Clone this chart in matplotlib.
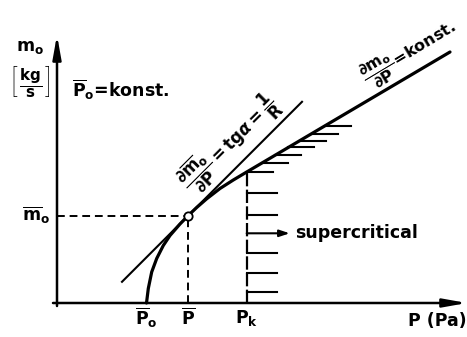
import numpy as np
import matplotlib
matplotlib.use("Agg")
import matplotlib.pyplot as plt

plt.rcParams['font.family'] = ['DejaVu Sans']
plt.rcParams['font.weight'] = 'bold'
plt.rcParams['mathtext.fontset'] = 'custom'
plt.rcParams['mathtext.rm'] = 'DejaVu Sans:bold'
plt.rcParams['mathtext.it'] = 'DejaVu Sans:italic:bold'
plt.rcParams['mathtext.bf'] = 'DejaVu Sans:bold'

# Mass flow characteristic m_o(P)
P_curve = [8.95, 9.13, 9.47, 9.97, 10.63, 11.3, 12.3, 13.13, 13.97, 14.97, 16.3, 17.63, 18.97, 39.3]
m_curve = [0.0, 1.45, 3.1, 4.45, 5.75, 6.75, 7.9, 8.75, 9.55, 10.42, 11.45, 12.3, 13.1, 25.1]

# Characteristic points
P0 = 8.95
P_bar = 13.13
m_bar = 8.75
P_k = 18.97

# Tangent at the operating point
tangent_slope = 1.0
tangent_span = [6.5, 24.5]

# Hatching of the supercritical region
hatch_curve_P = [18.97, 20.47, 21.8, 23.13, 24.3, 25.47, 26.8]
hatch_vert_m = [10.97, 8.8, 4.97, 2.97, 1.13]
arrow_m = 6.97

fig = plt.figure(figsize=(4.67, 3.37), dpi=100)
ax = fig.add_axes([0, 0, 1, 1])
ax.set_xlim(-5.7, 41.0)
ax.set_ylim(-3.4, 30.3)
ax.axis('off')

# Coordinate axes with arrowheads
ax.annotate('', xy=(41.0, 0), xytext=(-0.4, 0),
            arrowprops=dict(arrowstyle='-|>,head_length=1.4,head_width=0.25',
                            lw=1.8, color='black', shrinkA=0, shrinkB=0))
ax.annotate('', xy=(0, 26.8), xytext=(0, -0.3),
            arrowprops=dict(arrowstyle='-|>,head_length=1.4,head_width=0.25',
                            lw=1.8, color='black', shrinkA=0, shrinkB=0))

# Main curve
ax.plot(P_curve, m_curve, color='black', lw=2.3, solid_capstyle='round', solid_joinstyle='round')

# Tangent line
tx = np.array(tangent_span)
ax.plot(tx, m_bar + tangent_slope * (tx - P_bar), color='black', lw=1.5)

# Dashed guide lines
dash = (0, (4, 2.5))
ax.plot([0, P_bar], [m_bar, m_bar], color='black', lw=1.4, linestyle=dash)
ax.plot([P_bar, P_bar], [0, m_bar], color='black', lw=1.4, linestyle=dash)
m_k = np.interp(P_k, P_curve, m_curve)
ax.plot([P_k, P_k], [0, m_k], color='black', lw=1.6, linestyle=(0, (6, 1.5)))

# Operating point
ax.plot([P_bar], [m_bar], marker='o', ms=6, mfc='white', mec='black', mew=1.3, zorder=5)

# Hatching
for p in hatch_curve_P:
    m = np.interp(p, P_curve, m_curve)
    ax.plot([p, p + 2.6], [m, m], color='black', lw=1.5)
for m in hatch_vert_m:
    ax.plot([P_k, P_k + 3.0], [m, m], color='black', lw=1.5)
ax.annotate('', xy=(P_k + 4.3, arrow_m), xytext=(P_k, arrow_m),
            arrowprops=dict(arrowstyle='-|>,head_length=0.6,head_width=0.2',
                            lw=1.5, color='black', shrinkA=0, shrinkB=0))
ax.text(23.8, arrow_m, 'supercritical', fontsize=12.5, va='center', ha='left')

# Axis labels
ax.text(P0, -1.5, r'$\overline{\mathrm{P}}_\mathrm{o}$', fontsize=12.5, ha='center', va='center')
ax.text(P_bar, -1.5, r'$\overline{\mathrm{P}}$', fontsize=12.5, ha='center', va='center')
ax.text(P_k, -1.5, r'$\mathrm{P}_\mathrm{k}$', fontsize=12.5, ha='center', va='center')
ax.text(41.0, -1.8, 'P (Pa)', fontsize=12.5, ha='right', va='center')
ax.text(-0.7, m_bar, r'$\overline{\mathrm{m}}_\mathrm{o}$', fontsize=12.5, ha='right', va='center')
ax.text(-2.7, 25.6, r'$\mathrm{m}_\mathrm{o}$', fontsize=12.5, ha='center', va='center')
ax.text(-2.7, 22.2, r'$\left[\,\dfrac{\mathrm{kg}}{\mathrm{s}}\,\right]$', fontsize=11, ha='center', va='center')
ax.text(1.5, 21.3, r'$\overline{\mathrm{P}}_\mathrm{o}$=konst.', fontsize=12.5, ha='left', va='center')

ax.text(17.2, 16.0,
        r'$\dfrac{\partial\overline{\mathrm{m}}_\mathrm{o}}{\partial \mathrm{P}}=\mathrm{tg}\alpha=\dfrac{1}{\mathrm{R}}$',
        fontsize=12, rotation=45, ha='center', va='center', rotation_mode='anchor')
ax.text(35.2, 25.0,
        r'$\dfrac{\partial \mathrm{m}_\mathrm{o}}{\partial \mathrm{P}}$=konst.',
        fontsize=11.5, rotation=31, ha='center', va='center', rotation_mode='anchor')

fig.savefig('out.png', dpi=100)
